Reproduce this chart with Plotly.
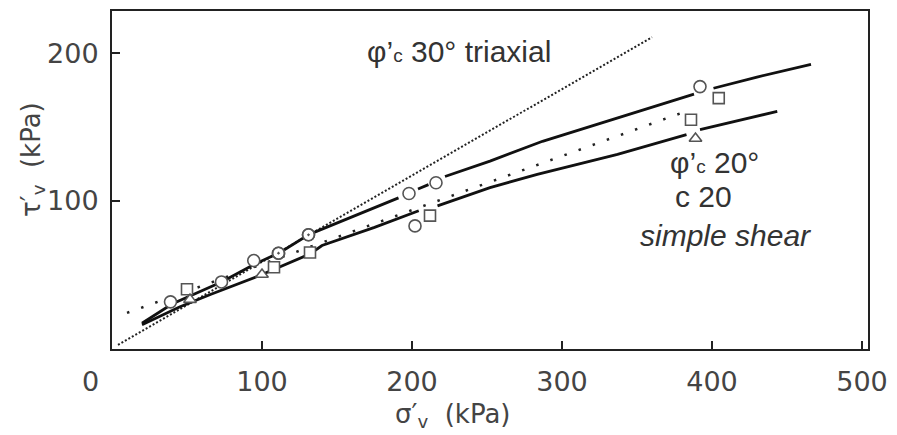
import plotly.graph_objects as go

# ---- data (kPa) ----
triax_x = [4, 360]
triax_y = [2.3, 211]

c20_x = [10, 382]
c20_y = [24, 160.5]

upper_x = [20, 40, 73, 95, 112, 131, 138, 165, 191, None, 204, 211, None, 222, 252, 287, 337, 388, None, 401, 430, 466]
upper_y = [17, 30, 45, 57, 65, 77, 80, 91, 102, None, 108, 111, None, 116.5, 127, 140.4, 156.2, 172.4, None, 176.4, 184, 192.6]

lower_x = [20, 45, 66, 100, 132, 140, 175, 204.5, None, 217, 252, 283.5, 337, 383, None, 392, 443.5]
lower_y = [16, 28, 36.6, 50, 64, 69.7, 82, 93.3, None, 96.6, 109, 118, 131.5, 145, None, 148.3, 160.7]

circ_x = [39, 73, 94.5, 198, 216, 202, 392]
circ_y = [31.5, 45, 59.5, 105, 112.3, 83, 177.5]

circdot_x = [111, 131]
circdot_y = [64.5, 77]

sq_x = [50, 108, 132, 212, 386, 404.5]
sq_y = [40, 55, 65, 90, 155, 169.7]

tri_x = [52, 100, 389]
tri_y = [33, 50, 142.3]

x_ticks = [0, 100, 200, 300, 400, 500]
x_ticktext = ["0" + "\u00a0" * 5, "100", "200", "300", "400", "500"]
y_ticks = [100, 200]
y_ticktext = ["100", "200"]

fig = go.Figure()

fig.add_trace(go.Scatter(x=triax_x, y=triax_y, mode="lines",
                         line=dict(color="#222", width=2, dash="2px,2px"),
                         hoverinfo="skip", showlegend=False))
fig.add_trace(go.Scatter(x=c20_x, y=c20_y, mode="lines",
                         line=dict(color="#222", width=2.5, dash="2.5px,12.5px"),
                         hoverinfo="skip", showlegend=False))
fig.add_trace(go.Scatter(x=upper_x, y=upper_y, mode="lines",
                         line=dict(color="#111", width=2.8),
                         hoverinfo="skip", showlegend=False))
fig.add_trace(go.Scatter(x=lower_x, y=lower_y, mode="lines",
                         line=dict(color="#111", width=2.8),
                         hoverinfo="skip", showlegend=False))

mk_line = dict(color="#555", width=1.6)
fig.add_trace(go.Scatter(x=circ_x, y=circ_y, mode="markers",
                         marker=dict(symbol="circle", size=12, color="white", line=mk_line),
                         showlegend=False))
fig.add_trace(go.Scatter(x=circdot_x, y=circdot_y, mode="markers",
                         marker=dict(symbol="circle", size=12, color="white", line=mk_line),
                         showlegend=False))
fig.add_trace(go.Scatter(x=circdot_x, y=circdot_y, mode="markers",
                         marker=dict(symbol="circle-open-dot", size=12, color="#555", line=mk_line),
                         showlegend=False))
fig.add_trace(go.Scatter(x=sq_x, y=sq_y, mode="markers",
                         marker=dict(symbol="square", size=11, color="white", line=mk_line),
                         showlegend=False))
fig.add_trace(go.Scatter(x=tri_x, y=tri_y, mode="markers",
                         marker=dict(symbol="triangle-up", size=11, color="white", line=mk_line),
                         showlegend=False))

tick_font = dict(family="DejaVu Sans", size=27, color="#444")
txt_font = dict(family="Liberation Sans, Arial", size=30, color="#333")
title_font = dict(family="DejaVu Sans", size=26, color="#444")

# The page body has an 8px default margin: the figure is sized and
# padded so that the plot frame lands where the reference has it.
fig.update_layout(
    width=889, height=427,
    margin=dict(l=104, r=29, t=1, b=86),
    paper_bgcolor="white", plot_bgcolor="white",
    xaxis=dict(range=[0, 504], tickvals=x_ticks, ticktext=x_ticktext,
               ticks="inside", ticklen=8, tickwidth=1.5, tickcolor="#222",
               showline=True, linecolor="#222", linewidth=2, mirror=True,
               showgrid=False, zeroline=False, tickfont=tick_font,
               ticklabelstandoff=8, fixedrange=True),
    yaxis=dict(range=[-0.5, 228.8], tickvals=y_ticks, ticktext=y_ticktext,
               ticks="inside", ticklen=8, tickwidth=1.5, tickcolor="#222",
               showline=True, linecolor="#222", linewidth=2, mirror=True,
               showgrid=False, zeroline=False, tickfont=tick_font,
               ticklabelstandoff=6, fixedrange=True),
    annotations=[
        dict(xref="paper", yref="paper", x=0.45, y=-0.197,
             text="σ′<sub>v</sub>\u00a0\u00a0(kPa)", showarrow=False,
             xanchor="center", yanchor="middle", font=title_font),
        dict(xref="paper", yref="paper", x=-0.106, y=0.562,
             text="τ′<sub>v</sub>\u00a0\u00a0(kPa)", showarrow=False, textangle=-90,
             xanchor="center", yanchor="middle", font=title_font),
        dict(xref="x", yref="y", x=168.7, y=201,
             text="φ’<span style=\"font-size:19px\">c</span> 30° triaxial",
             showarrow=False, xanchor="left", yanchor="middle", font=txt_font),
        dict(xref="x", yref="y", x=370.7, y=126,
             text="φ’<span style=\"font-size:19px\">c</span> 20°",
             showarrow=False, xanchor="left", yanchor="middle", font=txt_font),
        dict(xref="x", yref="y", x=374, y=102.7, text="c 20",
             showarrow=False, xanchor="left", yanchor="middle", font=txt_font),
        dict(xref="x", yref="y", x=350.7, y=76.4, text="<i>simple shear</i>",
             showarrow=False, xanchor="left", yanchor="middle", font=txt_font),
    ],
)

fig.write_html("out.html")
